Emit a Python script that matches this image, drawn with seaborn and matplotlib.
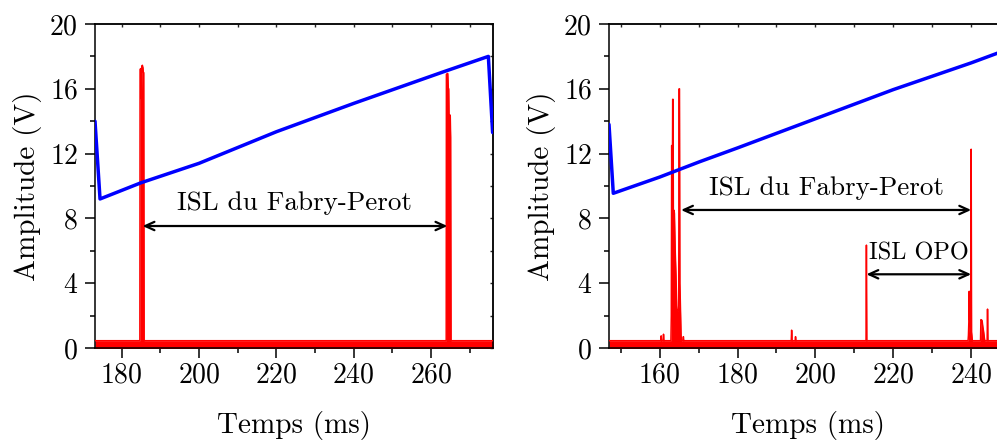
import numpy as np
import pandas as pd
import matplotlib
matplotlib.use("Agg")
import matplotlib.pyplot as plt
from matplotlib.ticker import MultipleLocator
import seaborn as sns

# ---------------- data ----------------
# Left panel: ramp (blue) and Fabry-Perot transmission (red)
t_blue_left = [173.1, 174.4, 185.0, 200.0, 220.0, 240.0, 263.2, 274.8, 275.9]
v_blue_left = [14.0, 9.2, 10.2, 11.4, 13.35, 15.1, 17.05, 18.0, 13.3]

t_red_left = [173.1, 184.7, 184.75, 184.95, 185.05, 185.1, 185.2, 185.35, 185.5, 185.6,
              185.7, 185.8, 263.9, 263.95, 264.3, 264.45, 264.55, 264.7, 264.8,
              264.95, 265.05, 265.15, 276.0]
v_red_left = [0.45, 0.45, 17.2, 17.25, 15.4, 15.4, 17.4, 17.45, 17.3, 17.0,
              17.0, 0.45, 0.45, 16.9, 16.95, 16.0, 16.0, 12.9, 14.4,
              14.3, 13.0, 0.45, 0.45]

# Right panel
t_blue_right = [147.0, 148.1, 160.0, 170.3, 180.0, 200.0, 220.0, 240.0, 249.0]
v_blue_right = [13.8, 9.55, 10.55, 11.5, 12.35, 14.15, 15.95, 17.6, 18.4]

t_red_right = [147.0, 160.3, 160.4, 160.5, 160.9, 161.0, 161.1,
               162.9, 163.0, 163.1, 163.2, 163.35, 163.45, 163.55, 163.7, 163.8,
               164.0, 164.2, 164.4, 164.8, 164.9, 165.0, 165.1, 165.2, 165.3,
               165.5, 165.6, 166.0, 166.1, 166.2,
               193.8, 193.9, 194.0, 194.8, 194.9, 195.0,
               213.0, 213.1, 213.2,
               239.2, 239.3, 239.4, 239.5, 239.6, 239.8, 239.95, 240.0, 240.1, 240.3,
               242.4, 242.5, 242.8, 243.0, 243.2, 243.4, 243.5,
               244.1, 244.2, 244.3, 249.0]
v_red_right = [0.45, 0.45, 0.75, 0.45, 0.45, 0.85, 0.45,
               0.45, 2.0, 12.5, 4.0, 15.35, 15.35, 6.0, 8.5, 8.3,
               6.0, 4.5, 2.4, 2.3, 2.6, 16.0, 16.0, 4.0, 3.0,
               0.8, 0.45, 0.45, 0.7, 0.45,
               0.45, 1.1, 0.45, 0.45, 0.7, 0.45,
               0.45, 6.35, 0.45,
               0.45, 0.8, 1.6, 3.5, 1.8, 1.2, 0.9, 12.27, 1.0, 0.45,
               0.45, 1.75, 1.7, 1.3, 1.0, 0.6, 0.45,
               0.45, 2.4, 0.45, 0.45]
noise_floor_bottom = -0.08

# annotations (data units)
fp_left = (185.4, 264.2, 7.53)
fp_left_text = (224.6, 8.95)
fp_right = (165.5, 240.0, 8.52)
fp_right_text = (202.9, 9.86)
opo_right = (213.1, 240.0, 4.55)
opo_right_text = (226.5, 5.85)

xlim_left = (173.1, 276.0)
xlim_right = (147.0, 249.2)
ylim = (0, 20)
yticks = [0, 4, 8, 12, 16, 20]
xlabel = "Temps (ms)"
ylabel = "Amplitude (V)"
fp_label = "ISL du Fabry-Perot"
opo_label = "ISL OPO"

# ---------------- styling ----------------
sns.set_theme(style="ticks")
plt.rcParams["font.family"] = ["cmr10", "DejaVu Serif"]
plt.rcParams["mathtext.fontset"] = "cm"
plt.rcParams["axes.formatter.use_mathtext"] = True
plt.rcParams["axes.unicode_minus"] = False

BLUE = "#0000FF"
RED = "#FF0000"

fig = plt.figure(figsize=(9.97, 4.41), dpi=100)
ax1 = fig.add_axes([95 / 997, 93 / 441, 398 / 997, 324 / 441])
ax2 = fig.add_axes([609 / 997, 93 / 441, 398 / 997, 324 / 441])


def draw(ax, tb, vb, tr, vr, xlim, xmaj, xmin_):
    dfr = pd.DataFrame({"t": tr, "v": vr})
    dfb = pd.DataFrame({"t": tb, "v": vb})
    ax.fill_between(dfr["t"], noise_floor_bottom, dfr["v"], color=RED, lw=0, zorder=2)
    sns.lineplot(data=dfr, x="t", y="v", ax=ax, color=RED, lw=1.1, sort=False,
                 estimator=None, zorder=3)
    sns.lineplot(data=dfb, x="t", y="v", ax=ax, color=BLUE, lw=2.5, sort=False,
                 estimator=None, zorder=4)
    ax.set_xlim(*xlim)
    ax.set_ylim(*ylim)
    ax.set_yticks(yticks)
    ax.xaxis.set_major_locator(MultipleLocator(xmaj))
    ax.xaxis.set_minor_locator(MultipleLocator(xmin_))
    ax.yaxis.set_minor_locator(MultipleLocator(2))
    ax.tick_params(axis="both", which="major", direction="out", length=7.2,
                   width=1.1, labelsize=20, color="black", labelcolor="black")
    ax.tick_params(axis="both", which="minor", direction="out", length=3.6,
                   width=1.1, color="black")
    ax.tick_params(axis="x", which="major", pad=3)
    ax.tick_params(axis="y", which="major", pad=5)
    for s in ax.spines.values():
        s.set_visible(True)
        s.set_linewidth(1.1)
        s.set_color("black")
    ax.set_xlabel(xlabel, fontsize=21, labelpad=16, color="black")
    ax.set_ylabel(ylabel, fontsize=21, labelpad=5, color="black")
    ax.set_facecolor("white")
    # inward ticks on top and right
    sx = ax.secondary_xaxis("top")
    sx.xaxis.set_major_locator(MultipleLocator(xmin_))
    sx.tick_params(direction="in", length=2.5, width=1.0, labelsize=0, labeltop=False)
    sx.spines["top"].set_linewidth(1.1)
    sy = ax.secondary_yaxis("right")
    sy.yaxis.set_major_locator(MultipleLocator(2))
    sy.tick_params(direction="in", length=2.5, width=1.0, labelsize=0, labelright=False)
    sy.spines["right"].set_linewidth(1.1)


def arrow(ax, x0, x1, y):
    ax.annotate("", xy=(x1, y), xytext=(x0, y),
                arrowprops=dict(arrowstyle="<->,head_length=0.55,head_width=0.25",
                                color="black", lw=1.6, shrinkA=0, shrinkB=0),
                zorder=6)


draw(ax1, t_blue_left, v_blue_left, t_red_left, v_red_left, xlim_left, 20, 10)
draw(ax2, t_blue_right, v_blue_right, t_red_right, v_red_right, xlim_right, 20, 10)

arrow(ax1, fp_left[0], fp_left[1], fp_left[2])
ax1.text(*fp_left_text, fp_label, fontsize=19.5, ha="center", va="center", color="black")
arrow(ax2, fp_right[0], fp_right[1], fp_right[2])
ax2.text(*fp_right_text, fp_label, fontsize=19.5, ha="center", va="center", color="black")
arrow(ax2, opo_right[0], opo_right[1], opo_right[2])
ax2.text(*opo_right_text, opo_label, fontsize=17.5, ha="center", va="center", color="black")

fig.savefig("out.png", dpi=100, facecolor="white")
